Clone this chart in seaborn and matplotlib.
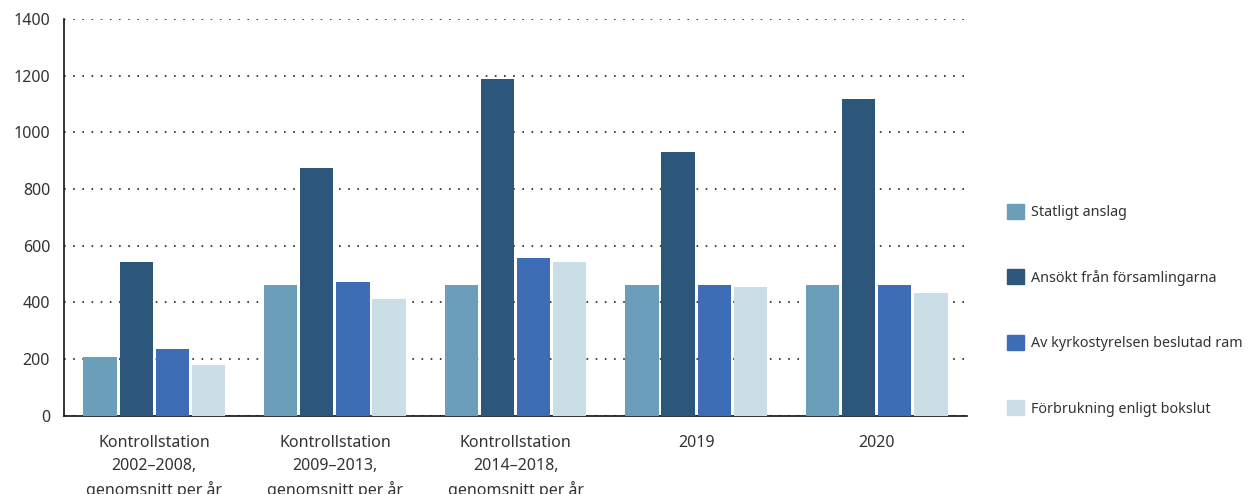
import pandas as pd
import numpy as np
import matplotlib.pyplot as plt
import seaborn as sns

# data
categories = [
    "Kontrollstation\n2002–2008,\ngenomsnitt per år",
    "Kontrollstation\n2009–2013,\ngenomsnitt per år",
    "Kontrollstation\n2014–2018,\ngenomsnitt per år",
    "2019",
    "2020",
]
series_names = [
    "Statligt anslag",
    "Ansökt från församlingarna",
    "Av kyrkostyrelsen beslutad ram",
    "Förbrukning enligt bokslut",
]
statligt = [206, 461, 461, 461, 461]
ansokt = [542, 874, 1188, 930, 1117]
beslutad = [235, 472, 556, 461, 461]
forbrukning = [179, 412, 542, 454, 433]
colors = ["#6B9EB8", "#2C567A", "#3D6EB5", "#C9DFE5"]

rows = []
for name, vals in zip(series_names, [statligt, ansokt, beslutad, forbrukning]):
    for cat, v in zip(categories, vals):
        rows.append({"kategori": cat, "serie": name, "varde": v})
df = pd.DataFrame(rows)

sns.set_style("white")
plt.rcParams["font.family"] = ["Noto Sans", "DejaVu Sans"]

fig = plt.figure(figsize=(12.52, 4.94), dpi=100)
ax = fig.add_axes([0.0511, 0.1585, 0.7213, 0.803])

sns.barplot(data=df, x="kategori", y="varde", hue="serie", order=categories,
            hue_order=series_names, palette=colors, width=0.8, gap=0.08,
            saturation=1, linewidth=0, ax=ax, zorder=3)

ax.set_xlim(-0.5, 4.5)
ax.set_ylim(0, 1400)
ax.set_yticks(range(0, 1401, 200))
ax.set_xlabel("")
ax.set_ylabel("")
ax.yaxis.grid(True, linestyle=(0, (1, 4.5)), color="#222222", linewidth=1.2, zorder=0)
ax.xaxis.grid(False)
for s in ["top", "right"]:
    ax.spines[s].set_visible(False)
ax.spines["left"].set_color("#111111")
ax.spines["left"].set_linewidth(1.2)
ax.spines["bottom"].set_color("#111111")
ax.spines["bottom"].set_linewidth(1.2)
ax.tick_params(axis="both", length=0, labelsize=11.5, labelcolor="#333333")
ax.tick_params(axis="x", pad=14)
ax.tick_params(axis="y", pad=10)
for lbl in ax.get_xticklabels():
    lbl.set_linespacing(1.55)

ax.get_legend().remove()
handles = [plt.Rectangle((0, 0), 1, 1, color=c) for c in colors]
fig.legend(handles, series_names, loc="center left", bbox_to_anchor=(0.794, 0.372),
           frameon=False, fontsize=10.3, labelcolor="#333333", handlelength=1.2,
           handleheight=1.2, handletextpad=0.45, labelspacing=3.45)

fig.savefig("out.png", dpi=100)
